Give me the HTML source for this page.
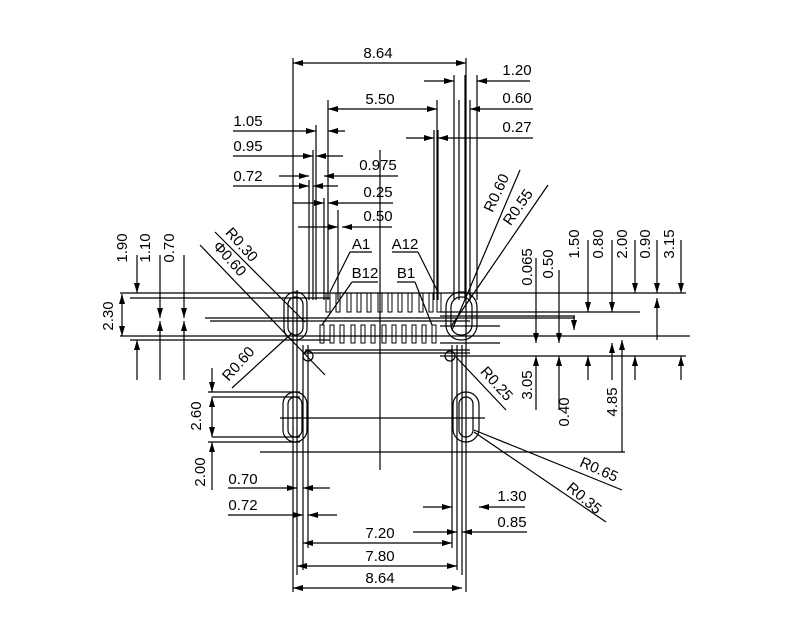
<!DOCTYPE html><html><head><style>body{margin:0;background:#fff}svg{display:block}text{font-family:"Liberation Sans Narrow","Liberation Sans",sans-serif;font-size:15px;fill:#000}</style></head><body>
<svg width="800" height="638" viewBox="0 0 800 638" xmlns="http://www.w3.org/2000/svg">
<defs><marker id="a" viewBox="0 0 10 6" refX="10" refY="3" markerWidth="10" markerHeight="6" orient="auto" markerUnits="userSpaceOnUse"><path d="M0,0L10,3L0,6z"/></marker>
<marker id="b" viewBox="0 0 10 6" refX="0" refY="3" markerWidth="10" markerHeight="6" orient="auto" markerUnits="userSpaceOnUse"><path d="M10,0L0,3L10,6z"/></marker></defs>
<g stroke="#000" stroke-width="1.2" fill="none">
<path d="M293,58V592M466,58V592M297,290V575M303,345V570M308,345V548M452,345V548M457,345V570M462,345V575"/>
<path d="M316,125V300M313,150V300M309,180V300M324,198V300M328,100V300M338,210V300M437,100V300M434,130V300M438,130V300M454,75V300M459,100V300M465,75V300M470,100V300M477,75V300"/>
<path d="M380,150V470"/>
<path d="M120,293H686M130,298H330M205,318H330M210,321H470M300,318H575M120,336H690M130,340H330M440,312H640M440,316H575M440,326H500M440,343H500M305,350H470M440,356H686M305,353H470"/>
<path d="M280,418H485M260,452H625M208,392H300M212,397H300M212,437H300M208,442H300"/>
<rect x="284" y="292" width="23" height="48" rx="11.5"/><rect x="288" y="297" width="15" height="38" rx="7.5"/>
<rect x="446" y="292" width="31" height="48" rx="15"/><rect x="451" y="297" width="21" height="38" rx="10"/>
<rect x="283" y="392" width="24" height="50" rx="12"/><rect x="288" y="397" width="14" height="40" rx="7"/>
<rect x="453" y="392" width="26" height="50" rx="13"/><rect x="459" y="397" width="14" height="40" rx="7"/>
<circle cx="308" cy="356" r="5"/><circle cx="450" cy="356" r="5"/>
<g stroke-width="1">
<rect x="326" y="293" width="4" height="19"/><rect x="336" y="293" width="4" height="19"/><rect x="347" y="293" width="4" height="19"/><rect x="357" y="293" width="4" height="19"/><rect x="367" y="293" width="4" height="19"/><rect x="378" y="293" width="4" height="19"/><rect x="388" y="293" width="4" height="19"/><rect x="398" y="293" width="4" height="19"/><rect x="408" y="293" width="4" height="19"/><rect x="419" y="293" width="4" height="19"/><rect x="429" y="293" width="4" height="19"/><rect x="437" y="293" width="4" height="19"/>
<rect x="320" y="325" width="4" height="18"/><rect x="330" y="325" width="4" height="18"/><rect x="340" y="325" width="4" height="18"/><rect x="351" y="325" width="4" height="18"/><rect x="361" y="325" width="4" height="18"/><rect x="371" y="325" width="4" height="18"/><rect x="382" y="325" width="4" height="18"/><rect x="392" y="325" width="4" height="18"/><rect x="402" y="325" width="4" height="18"/><rect x="412" y="325" width="4" height="18"/><rect x="422" y="325" width="4" height="18"/><rect x="432" y="325" width="4" height="18"/>
</g>
<path d="M350,252H372M350,252L330,292M392,252H418M418,252L437,290M352,282H378M352,282L322,325M397,282H415M415,282L432,325"/>
<path d="M215,232L305,322M200,245L325,375M232,388L292,333M520,170L452,330M548,185L452,325M456,357L506,410M474,430L622,490M474,432L606,522"/>
</g>
<g stroke="#000" stroke-width="1.2" marker-start="url(#b)" marker-end="url(#a)">
<path d="M293,63H466"/><path d="M328,109H437"/><path d="M303,543H452"/><path d="M297,566H457"/><path d="M293,588H462"/><path d="M122,294V336"/><path d="M212,397V437"/>
</g>
<g stroke="#000" stroke-width="1.2" marker-end="url(#a)">
<path d="M233,131H316"/><path d="M345,131H328"/><path d="M233,156H313"/><path d="M343,156H316"/><path d="M279,176H309"/><path d="M398,176H324"/><path d="M233,186H309"/><path d="M338,186H313"/><path d="M293,203H324"/><path d="M393,203H328"/><path d="M298,227H338"/><path d="M392,227H342"/><path d="M424,81H454"/><path d="M530,81H477"/><path d="M533,109H470"/><path d="M406,138H434"/><path d="M533,138H438"/><path d="M228,488H297"/><path d="M330,488H303"/><path d="M228,515H303"/><path d="M337,515H308"/><path d="M423,507H452"/><path d="M525,507H479"/><path d="M413,532H457"/><path d="M527,532H462"/>
<path d="M137,255V293"/><path d="M137,380V340"/><path d="M160,255V318"/><path d="M160,380V321"/><path d="M184,255V318"/><path d="M184,380V321"/><path d="M212,368V392"/><path d="M212,490V442"/>
<path d="M536,258V343"/><path d="M536,410V356"/><path d="M559,270V343"/><path d="M559,410V356"/><path d="M574,316V330"/><path d="M588,240V312"/><path d="M588,380V356"/><path d="M612,240V312"/><path d="M612,380V343"/><path d="M622,452V340"/><path d="M635,240V293"/><path d="M635,380V356"/><path d="M657,240V293"/><path d="M657,340V298"/><path d="M681,240V293"/><path d="M681,380V356"/>
</g>
<g>
<text x="378" y="58" text-anchor="middle">8.64</text>
<text x="380" y="104" text-anchor="middle">5.50</text>
<text x="517" y="75" text-anchor="middle">1.20</text>
<text x="517" y="103" text-anchor="middle">0.60</text>
<text x="517" y="132" text-anchor="middle">0.27</text>
<text x="248" y="126" text-anchor="middle">1.05</text>
<text x="248" y="151" text-anchor="middle">0.95</text>
<text x="378" y="170" text-anchor="middle">0.975</text>
<text x="248" y="181" text-anchor="middle">0.72</text>
<text x="378" y="197" text-anchor="middle">0.25</text>
<text x="378" y="221" text-anchor="middle">0.50</text>
<text x="361" y="249" text-anchor="middle">A1</text>
<text x="405" y="249" text-anchor="middle">A12</text>
<text x="365" y="278" text-anchor="middle">B12</text>
<text x="406" y="278" text-anchor="middle">B1</text>
<text x="243" y="484" text-anchor="middle">0.70</text>
<text x="243" y="510" text-anchor="middle">0.72</text>
<text x="380" y="538" text-anchor="middle">7.20</text>
<text x="380" y="561" text-anchor="middle">7.80</text>
<text x="380" y="583" text-anchor="middle">8.64</text>
<text x="512" y="501" text-anchor="middle">1.30</text>
<text x="512" y="527" text-anchor="middle">0.85</text>
<text transform="translate(127,248) rotate(-90)" text-anchor="middle">1.90</text>
<text transform="translate(150,248) rotate(-90)" text-anchor="middle">1.10</text>
<text transform="translate(174,248) rotate(-90)" text-anchor="middle">0.70</text>
<text transform="translate(113,316) rotate(-90)" text-anchor="middle">2.30</text>
<text transform="translate(201,416) rotate(-90)" text-anchor="middle">2.60</text>
<text transform="translate(205,472) rotate(-90)" text-anchor="middle">2.00</text>
<text transform="translate(532,267) rotate(-90)" text-anchor="middle">0.065</text>
<text transform="translate(553,264) rotate(-90)" text-anchor="middle">0.50</text>
<text transform="translate(579,244) rotate(-90)" text-anchor="middle">1.50</text>
<text transform="translate(603,244) rotate(-90)" text-anchor="middle">0.80</text>
<text transform="translate(627,244) rotate(-90)" text-anchor="middle">2.00</text>
<text transform="translate(650,244) rotate(-90)" text-anchor="middle">0.90</text>
<text transform="translate(674,244) rotate(-90)" text-anchor="middle">3.15</text>
<text transform="translate(532,385) rotate(-90)" text-anchor="middle">3.05</text>
<text transform="translate(569,412) rotate(-90)" text-anchor="middle">0.40</text>
<text transform="translate(617,402) rotate(-90)" text-anchor="middle">4.85</text>
<text transform="translate(238,248) rotate(48)" text-anchor="middle">R0.30</text>
<text transform="translate(226,262) rotate(48)" text-anchor="middle">Φ0.60</text>
<text transform="translate(242,367) rotate(-48)" text-anchor="middle">R0.60</text>
<text transform="translate(501,195) rotate(-65)" text-anchor="middle">R0.60</text>
<text transform="translate(522,210) rotate(-55)" text-anchor="middle">R0.55</text>
<text transform="translate(493,387) rotate(48)" text-anchor="middle">R0.25</text>
<text transform="translate(597,474) rotate(24)" text-anchor="middle">R0.65</text>
<text transform="translate(581,502) rotate(40)" text-anchor="middle">R0.35</text>
</g>
</svg></body></html>
